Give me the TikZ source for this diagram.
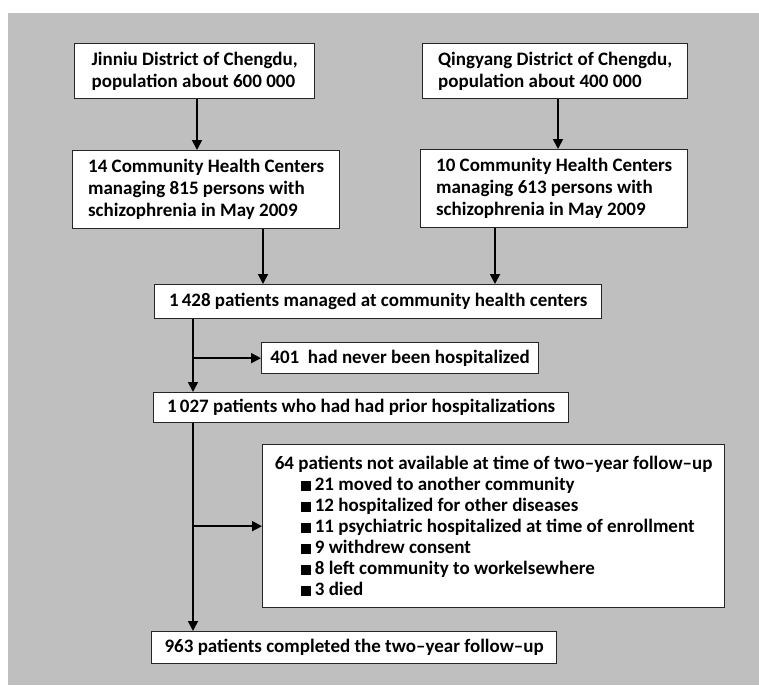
\documentclass[tikz,border=0pt]{standalone}
\usepackage{fontspec}
\setmainfont{Carlito}
\usetikzlibrary{arrows.meta}
\definecolor{panel}{RGB}{191,191,191}
\newcommand{\sqbul}{\hspace*{26pt}\rule{10pt}{10pt}\hspace{4pt}}

\begin{document}
\begin{tikzpicture}
  [x=1pt,y=-1pt,>={Triangle[length=10pt,width=10pt]},
   arr/.style={->,line width=1.8pt},
   every node/.style={draw=black!85,line width=1.3pt,fill=white,anchor=north west,
     align=left,inner sep=0pt,font=\fontsize{19}{22}\selectfont\bfseries}]
  \useasboundingbox (0,0) rectangle (759,685);
  \fill[panel] (8,13) rectangle (759,685);

  \node[minimum width=240pt,minimum height=55pt] (jin) at (74,43)
    {Jinniu District of Chengdu,\\population about 600 000};
  \node[minimum width=265pt,minimum height=55pt] (qin) at (422,43)
    {Qingyang District of Chengdu,\\population about 400 000};
  \node[minimum width=267pt,minimum height=78pt] (jhc) at (72,150)
    {14 Community Health Centers\\managing 815 persons with\\schizophrenia in May 2009};
  \node[minimum width=267pt,minimum height=78pt] (qhc) at (420,149)
    {10 Community Health Centers\\managing 613 persons with\\schizophrenia in May 2009};
  \node[minimum width=447pt,minimum height=34pt] (all) at (154,284)
    {1\,428 patients managed at community health centers};
  \node[minimum width=277pt,minimum height=31pt] (nvr) at (261,342)
    {401~ had never been hospitalized};
  \node[minimum width=415pt,minimum height=30pt] (prior) at (153,392)
    {1\,027 patients who had had prior hospitalizations};
  \node[minimum width=462pt,minimum height=163pt,font=\fontsize{19}{21}\selectfont\bfseries] (lost) at (262,444)
    {64 patients not available at time of two\textendash year follow\textendash up\\
     \sqbul 21 moved to another community\\
     \sqbul 12 hospitalized for other diseases\\
     \sqbul 11 psychiatric hospitalized at time of enrollment\\
     \sqbul 9 withdrew consent\\
     \sqbul 8 left community to workelsewhere\\
     \sqbul 3 died};
  \node[minimum width=405pt,minimum height=32pt] (done) at (151,631)
    {963 patients completed the two\textendash year follow\textendash up};

  \coordinate (xa) at (197,0);
  \coordinate (xc) at (558,0);
  \coordinate (xb) at (263,0);
  \coordinate (xd) at (495,0);
  \coordinate (trunk) at (193,0);

  \foreach \from/\to/\x in {jin/jhc/xa,qin/qhc/xc,jhc/all/xb,qhc/all/xd,all/prior/trunk,prior/done/trunk}
    \draw[arr] (\from.south -| \x) -- (\to.north -| \x);
  \foreach \to in {nvr,lost}
    \draw[arr] (\to.west -| trunk) -- (\to.west);

\end{tikzpicture}
\end{document}
